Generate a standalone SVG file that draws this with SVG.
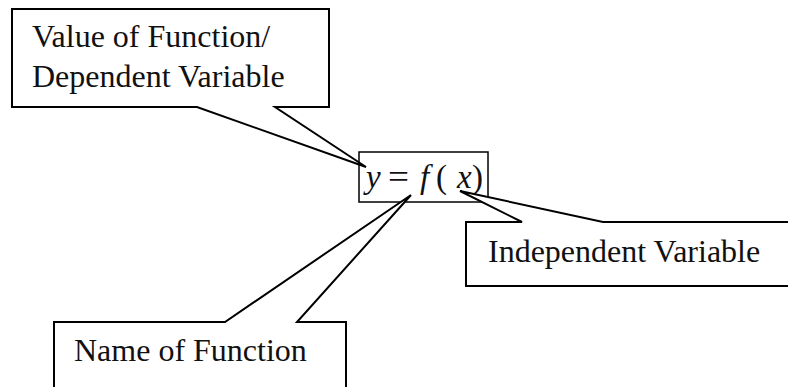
<svg xmlns="http://www.w3.org/2000/svg" width="788" height="387" viewBox="0 0 788 387">
<style>
.co{fill:#fff;stroke:#000;stroke-width:2;stroke-linejoin:miter}
.t{font-family:"Liberation Serif","Times New Roman",serif;font-size:32px;fill:#111}
.m{font-family:"Liberation Serif","Times New Roman",serif;font-size:33px;fill:#111;font-style:italic}
.r{font-family:"Liberation Serif","Times New Roman",serif;font-size:33px;fill:#111}
</style>
<rect width="788" height="387" fill="#fff"/>
<g id="connectors"></g>
<g id="eq">
<rect x="359" y="152" width="129" height="50" fill="#fff" stroke="#000" stroke-width="1.5"/>
<text class="m" x="366" y="188">y</text>
<text class="r" x="388" y="188" textLength="21" lengthAdjust="spacingAndGlyphs">=</text>
<text class="m" x="420" y="188">f</text>
<text class="r" x="436" y="188" font-size="41">(</text>
<text class="m" x="457" y="188">x</text>
<text class="r" x="472" y="188" font-size="41">)</text>
</g>
<g id="value">
<path class="co" d="M12,9 H329 V107 H275 L366,167 L197,107 H12 Z"/>
<text class="t" x="32" y="47">Value of Function/</text>
<text class="t" x="32" y="87">Dependent Variable</text>
</g>
<g id="independent">
<path class="co" d="M466,222 H522 L460,191 L603,222 H795 V286 H466 Z"/>
<text class="t" x="488" y="262" font-size="31">Independent Variable</text>
</g>
<g id="name">
<path class="co" d="M54,322 H225 L411,195 L297,322 H346 V395 H54 Z"/>
<text class="t" x="74" y="361">Name of Function</text>
</g>
</svg>
